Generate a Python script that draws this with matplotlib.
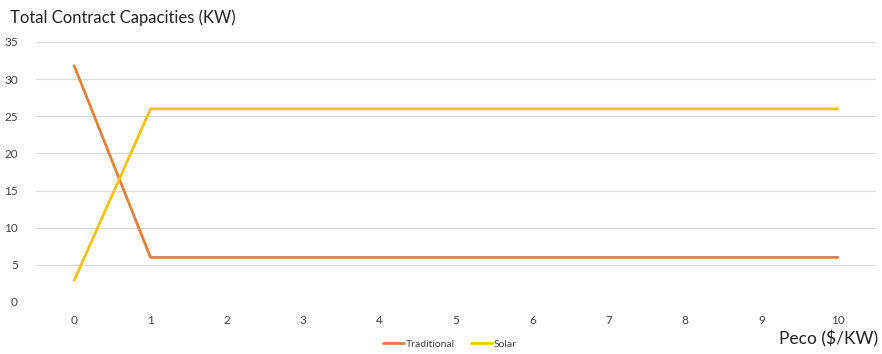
import matplotlib
matplotlib.use("agg")
import matplotlib.pyplot as plt

peco = [0, 1, 2, 3, 4, 5, 6, 7, 8, 9, 10]
traditional = [31.8, 6, 6, 6, 6, 6, 6, 6, 6, 6, 6]
solar = [2.9, 26, 26, 26, 26, 26, 26, 26, 26, 26, 26]

plt.rcParams['font.family'] = ['Lato', 'DejaVu Sans']

fig = plt.figure(figsize=(8.82, 3.54), dpi=100)
ax = fig.add_axes([36/882, 1-302/354, (876-36)/882, (302-42)/354])

ax.plot(peco, traditional, color='#E0823D', lw=2, label='Traditional', solid_capstyle='round')
ax.plot(peco, solar, color='#F2C314', lw=2, label='Solar', solid_capstyle='round')

ax.set_xlim(-0.5, 10.5)
ax.set_ylim(0, 35)
ax.set_yticks(range(0, 36, 5))
ax.set_xticks(peco)
ax.grid(axis='y', color='#D9D9D9', lw=0.8)
ax.set_axisbelow(True)
for s in ax.spines.values():
    s.set_visible(False)
ax.tick_params(length=0, labelsize=8.5, colors='#404040', pad=9)
ax.tick_params(axis='y', pad=13)

fig.text(10/882, 1-18/354, 'Total Contract Capacities (KW)', fontsize=12, va='center', ha='left', color='#222222')
fig.text(878/882, 1-339/354, 'Peco ($/KW)', fontsize=12.5, va='center', ha='right', color='#222222')

fig.legend(loc='center', bbox_to_anchor=(450/882, 1-344/354), ncol=2, frameon=False,
           fontsize=7.5, handlelength=2, handletextpad=0.2, columnspacing=1.5,
           labelcolor='#404040')

fig.savefig('out.png', dpi=100)
